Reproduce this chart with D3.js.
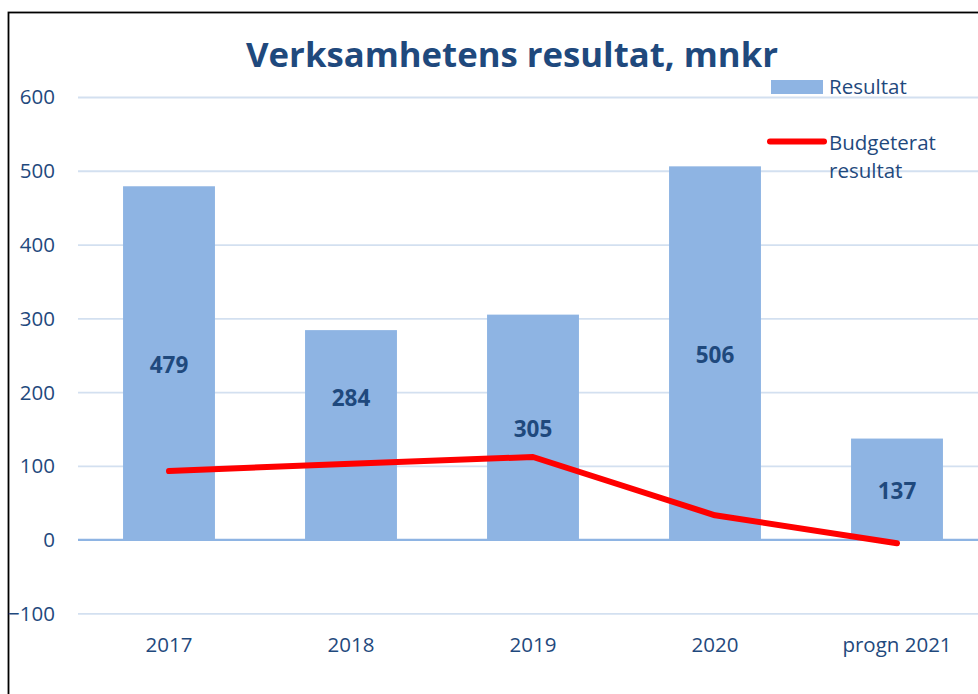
<!DOCTYPE html>
<html>
<head>
<meta charset="utf-8">
<script src="https://cdn.jsdelivr.net/npm/d3@7"></script>
<style>
  html, body { margin: 0; padding: 0; background: #fff; }
  svg { display: block; }
  text { font-family: "Open Sans", sans-serif; }
</style>
</head>
<body>
<svg id="chart" width="978" height="694"></svg>
<script>
// ---- data ----
const categories = ["2017", "2018", "2019", "2020", "progn 2021"];
const resultat = [479, 284, 305, 506, 137];
const budgeterat = [93, 103, 112, 33, -5];
const yTicks = [-100, 0, 100, 200, 300, 400, 500, 600];
const title = "Verksamhetens resultat, mnkr";
const legendLabels = ["Resultat", "Budgeterat resultat"];

// ---- styles ----
const textColor = "#1f497d";
const barColor = "#8eb4e3";
const gridColor = "#d3e0f0";
const lineColor = "#ff0000";

const svg = d3.select("#chart");

svg.append("rect").attr("width", 978).attr("height", 694).attr("fill", "#fff");
// outer border (extends past right/bottom edges)
svg.append("rect")
  .attr("x", 8.5).attr("y", 12.5).attr("width", 1000).attr("height", 720)
  .attr("fill", "none").attr("stroke", "#000").attr("stroke-width", 1.8);

const x = d3.scaleBand().domain(categories).range([78, 988])
  .paddingInner(0.495).paddingOuter(0.2475);
const y = d3.scaleLinear().domain([-100, 600]).range([613.4, 97]);

// y axis + gridlines
const yAxis = svg.append("g").attr("transform", "translate(78,0)")
  .call(d3.axisLeft(y).tickValues(yTicks).tickSize(-910).tickPadding(23).tickFormat(d3.format("d")));
yAxis.select(".domain").remove();
yAxis.selectAll(".tick line")
  .attr("stroke", d => d === 0 ? barColor : gridColor)
  .attr("stroke-width", 1.8);
yAxis.selectAll(".tick text")
  .attr("fill", textColor).attr("font-size", 20.5)
  .attr("font-family", "Open Sans, sans-serif")
  .attr("dy", "0.34em");

// bars
svg.append("g").selectAll("rect").data(categories).join("rect")
  .attr("x", d => x(d))
  .attr("width", x.bandwidth())
  .attr("y", (d, i) => y(Math.max(0, resultat[i])))
  .attr("height", (d, i) => Math.abs(y(resultat[i]) - y(0)))
  .attr("fill", barColor);

// zero line on top of bars
svg.append("line").attr("x1", 78).attr("x2", 988)
  .attr("y1", y(0)).attr("y2", y(0))
  .attr("stroke", barColor).attr("stroke-width", 1.8);

// x axis labels
const xAxis = svg.append("g").attr("transform", `translate(0,${y(-100)})`)
  .call(d3.axisBottom(x).tickSize(0).tickPadding(24));
xAxis.select(".domain").remove();
xAxis.selectAll(".tick text")
  .attr("fill", textColor).attr("font-size", 20.5)
  .attr("font-family", "Open Sans, sans-serif");

// budget line
const line = d3.line()
  .x((d, i) => x(categories[i]) + x.bandwidth() / 2)
  .y(d => y(d));
svg.append("path").datum(budgeterat)
  .attr("d", line)
  .attr("fill", "none").attr("stroke", lineColor)
  .attr("stroke-width", 6).attr("stroke-linecap", "round").attr("stroke-linejoin", "round");

// bar value labels (2018 label was moved up in the original)
const labelShift = [0, -38, 0, 0, 0];
svg.append("g").selectAll("text").data(categories).join("text")
  .attr("x", d => x(d) + x.bandwidth() / 2)
  .attr("y", (d, i) => (y(resultat[i]) + y(0)) / 2 + 1.5 + labelShift[i])
  .attr("dy", "0.36em")
  .attr("text-anchor", "middle")
  .attr("font-size", 22.5).attr("font-weight", 700)
  .attr("fill", textColor)
  .text((d, i) => resultat[i]);

// title
const t = svg.append("text")
  .attr("x", 512).attr("y", 67)
  .attr("text-anchor", "middle")
  .attr("font-size", 33).attr("font-weight", 700)
  .attr("fill", textColor)
  .text(title);
const tl = t.node().getComputedTextLength();
t.attr("font-size", 33 * 532 / tl);

// legend
const lg = svg.append("g");
lg.append("rect").attr("x", 771).attr("y", 80).attr("width", 52).attr("height", 14).attr("fill", barColor);
lg.append("text").attr("x", 829).attr("y", 94)
  .attr("font-size", 20.5).attr("fill", textColor).text(legendLabels[0]);
lg.append("line").attr("x1", 770).attr("x2", 824).attr("y1", 141.5).attr("y2", 141.5)
  .attr("stroke", lineColor).attr("stroke-width", 6).attr("stroke-linecap", "round");
const words = legendLabels[1].split(" ");
lg.append("text").attr("x", 829).attr("y", 150)
  .attr("font-size", 20.5).attr("fill", textColor).text(words[0]);
lg.append("text").attr("x", 829).attr("y", 178)
  .attr("font-size", 20.5).attr("fill", textColor).text(words[1]);
</script>
</body>
</html>
